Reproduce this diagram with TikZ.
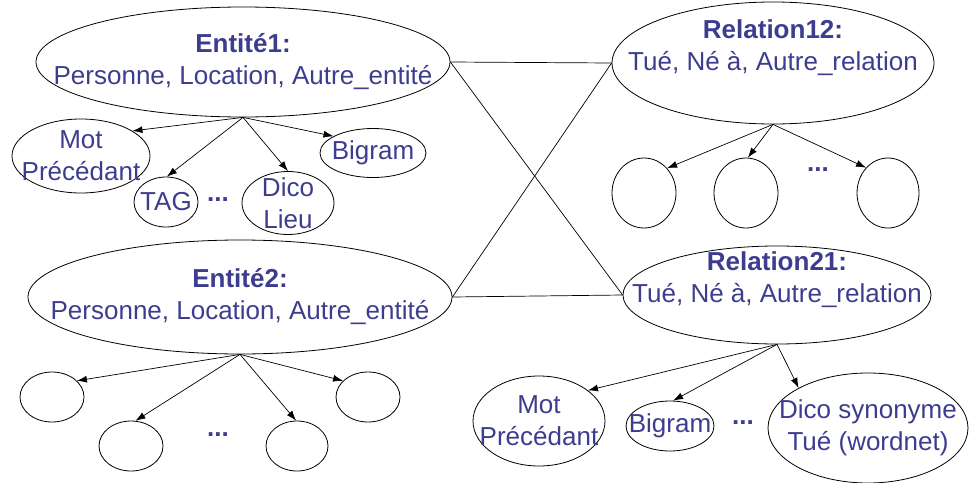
\documentclass[tikz,border=0pt]{standalone}
\usepackage{fontspec}
\setmainfont{Liberation Sans}
\usetikzlibrary{shapes.geometric,arrows.meta}
\definecolor{txtblue}{HTML}{3D3D8F}

\begin{document}
\begin{tikzpicture}
[x=1pt, y=-1pt,
oval/.style={ellipse, draw=black, line width=0.8pt, inner sep=0pt},
txt/.style={text=txtblue, align=center, font={\fontsize{26}{32}\selectfont}},
every label/.style={txt},
arr/.style={-{Latex[length=10pt,width=7pt]}, line width=0.7pt}]
\useasboundingbox (0,0) rectangle (969,482);

% entities
\node[oval, minimum width=414, minimum height=110,
  label={center:{\textbf{Entité1:}\\Personne, Location, Autre\_entité}}] (ent1) at (243,62) {};
\node[oval, minimum width=424, minimum height=114,
  label={center:{\textbf{Entité2:}\\Personne, Location, Autre\_entité}}] (ent2) at (240,297) {};

% relations
\node[oval, minimum width=322, minimum height=122,
  label={[yshift=15pt]center:{\textbf{Relation12:}\\Tué, Né à, Autre\_relation}}] (rel12) at (773,63) {};
\node[oval, minimum width=308, minimum height=98,
  label={[yshift=15pt]center:{\textbf{Relation21:}\\Tué, Né à, Autre\_relation}}] (rel21) at (777,295) {};

% features of Entite1
\node[oval, minimum width=138, minimum height=74, label={center:{Mot\\Précédant}}] (mot1) at (81,156) {};
\node[oval, minimum width=64, minimum height=50, label={center:TAG}] (tag) at (166,202) {};
\node[txt] (dots1) at (218,200) {\textbf{...}};
\node[oval, minimum width=92, minimum height=63, label={center:{Dico\\Lieu}}] (lieu) at (288,203) {};
\node[oval, minimum width=106, minimum height=49, label={center:Bigram}] (bigram1) at (373,153) {};

% features of Relation12
\node[oval, minimum width=64, minimum height=70] (r12a) at (644,193) {};
\node[oval, minimum width=64, minimum height=70] (r12b) at (746,193) {};
\node[txt] (dots2) at (818,170) {\textbf{...}};
\node[oval, minimum width=62, minimum height=70] (r12c) at (888,193) {};

% features of Entite2
\node[oval, minimum width=64, minimum height=50] (e2a) at (52,397) {};
\node[oval, minimum width=64, minimum height=50] (e2b) at (131,446) {};
\node[txt] (dots3) at (218,435) {\textbf{...}};
\node[oval, minimum width=62, minimum height=50] (e2c) at (297,446) {};
\node[oval, minimum width=64, minimum height=50] (e2d) at (368,397) {};

% features of Relation21
\node[oval, minimum width=132, minimum height=90, label={center:{Mot\\Précédant}}] (mot2) at (539,421) {};
\node[oval, minimum width=88, minimum height=50, label={center:Bigram}] (bigram2) at (670,426) {};
\node[txt] (dots4) at (743,423) {\textbf{...}};
\node[oval, minimum width=200, minimum height=110, label={center:{Dico synonyme\\Tué (wordnet)}}] (syn) at (868,428) {};

% links entity - relation
\draw[line width=0.7pt] (ent1.east) -- (rel12.west);
\draw[line width=0.7pt] (ent1.east) -- (rel21.west);
\draw[line width=0.7pt] (ent2.east) -- (rel12.west);
\draw[line width=0.7pt] (ent2.east) -- (rel21.west);

\path[arr] (ent1.south) edge (mot1.26)
                        edge (tag.88)
                        edge (lieu.90)
                        edge (bigram1.157);
\path[arr] (rel12.south) edge (r12a.47)
                         edge (r12b.87)
                         edge (r12c.131);
\path[arr] (ent2.south) edge (e2a.33)
                        edge (e2b.80)
                        edge (e2c.92)
                        edge (e2d.147);
\path[arr] (rel21.south) edge (mot2.32)
                         edge (bigram2.83)
                         edge (syn.150);
\end{tikzpicture}
\end{document}
